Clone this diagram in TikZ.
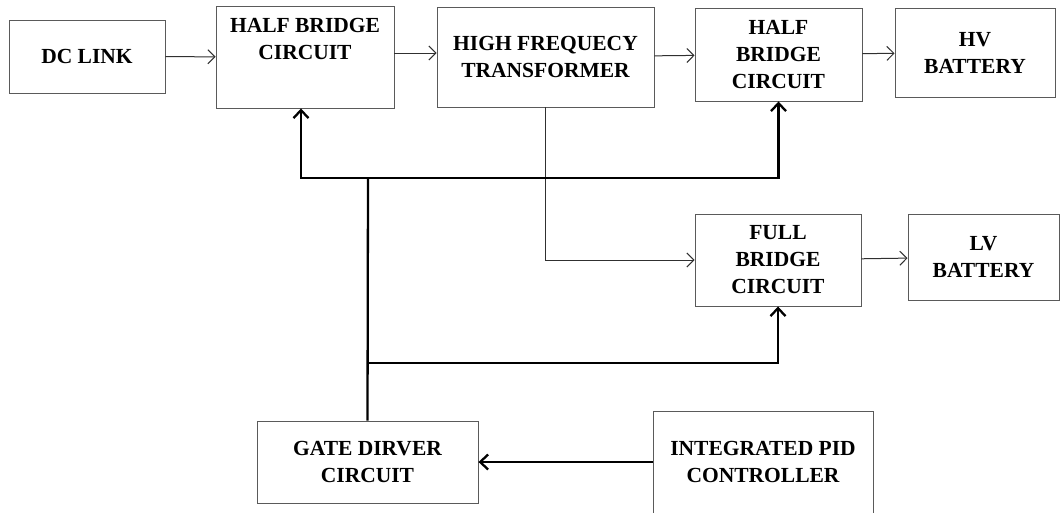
\documentclass[tikz,border=0pt]{standalone}
\usepackage{fontspec}
\setmainfont{Liberation Serif}
\usetikzlibrary{arrows.meta,positioning}
\definecolor{boxBd}{HTML}{5A5A5A}
\definecolor{flowLn}{HTML}{303030}
\tikzset{
  blk/.style={
    rectangle, draw=boxBd, line width=0.9pt, fill=white,
    align=center, inner sep=2pt,
    font=\fontsize{21.5}{27}\selectfont\bfseries
  },
  flow/.style={-{Straight Barb[length=7pt,width=14pt]}, line width=1pt, draw=flowLn},
  bus/.style={line width=2.3pt, draw=black},
  busarrow/.style={bus, -{Straight Barb[length=8pt,width=15pt]}}
}

\begin{document}
\begin{tikzpicture}[x=1pt, y=-1pt]
  \clip (0,0) rectangle (1060,512);
  \fill[white] (0,0) rectangle (1060,512);

  % --- power path (top row)
  \node[blk, minimum width=156, minimum height=73]  (dc)  at (87,56.5)   {DC LINK};
  \node[blk, minimum width=178, minimum height=102,
        label={[yshift=18pt, align=center, font=\fontsize{21.5}{27}\selectfont\bfseries]center:HALF BRIDGE\\CIRCUIT}]
                                                    (hbl) at (305,57)    {};
  \node[blk, minimum width=217, minimum height=100] (hft) at (545.5,57)  {HIGH FREQUECY\\TRANSFORMER};
  \node[blk, minimum width=167, minimum height=93]  (hbr) at (778.5,54.5) {HALF\\BRIDGE\\CIRCUIT};
  \node[blk, minimum width=160, minimum height=89]  (hv)  at (975,52.5)  {HV\\BATTERY};

  % --- low voltage branch
  \node[blk, minimum width=166, minimum height=92]  (fb)  at (778,260)   {FULL\\BRIDGE\\CIRCUIT};
  \node[blk, minimum width=151, minimum height=86]  (lv)  at (983.5,257) {LV\\BATTERY};

  % --- control
  \node[blk, minimum width=221, minimum height=82]  (gate) at (367.5,462) {GATE DIRVER\\CIRCUIT};
  \node[blk, minimum width=220, minimum height=102] (pid)  at (763,462)   {INTEGRATED PID\\CONTROLLER};

  \coordinate (jtop) at (368,178);
  \coordinate (jlow) at (368,363);

  % --- arrows
  \draw[flow] (dc) -- (hbl);
  \draw[flow] ([yshift=4pt]hbl.east) -- ([yshift=4pt]hft.west);
  \draw[flow] (hft) -- (hbr);
  \draw[flow] (hbr) -- (hv);
  \draw[flow] (hft.south) |- (fb.west);
  \draw[flow] (fb) -- (lv);

  \draw[bus]      (gate.north) -- (jtop);
  \draw[busarrow] (jtop) -| ([xshift=-4pt]hbl.south);
  \draw[busarrow] (jtop) -| (hbr.south);
  \draw[busarrow] (jlow) -| (fb.south);
  \draw[busarrow] (pid.west) -- (gate.east);
\end{tikzpicture}
\end{document}
